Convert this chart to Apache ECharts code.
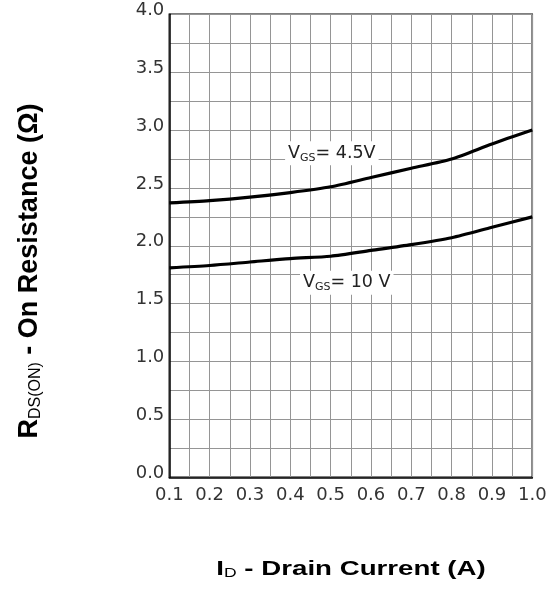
<!DOCTYPE html>
<html>
<head>
<meta charset="utf-8">
<script src="https://cdn.jsdelivr.net/npm/echarts@6/dist/echarts.min.js"></script>
<style>
html,body{margin:0;padding:0;background:#fff;}
#chart{width:550px;height:589px;}
</style>
</head>
<body>
<div id="chart"></div>
<script>
var drainCurrent = [0.1, 0.2, 0.3, 0.4, 0.5, 0.6, 0.7, 0.8, 0.9, 1.0];
var rdsVgs45 = [2.37, 2.39, 2.42, 2.46, 2.51, 2.59, 2.67, 2.75, 2.88, 3.00];
var rdsVgs10 = [1.81, 1.83, 1.86, 1.89, 1.91, 1.96, 2.01, 2.07, 2.16, 2.25];
var label45 = {x: 0.503, y: 2.80};
var label10 = {x: 0.54, y: 1.68};

var FONT = '"Liberation Sans", Arial, sans-serif';
var TICKFONT = '"DejaVu Sans", sans-serif';
function pairs(xs, ys){ return xs.map(function(x,i){ return [x, ys[i]]; }); }

var chart = echarts.init(document.getElementById('chart'), null, {renderer:'canvas'});
var gridStyle = {color:'#959595', width:1};
var labelRich = {
  v: {fontFamily: TICKFONT, fontSize: 17.5, color:'#222'},
  s: {fontFamily: TICKFONT, fontSize: 11, color:'#222', verticalAlign:'bottom', padding:[9,0,0,0]}
};
function vgsLabel(pt, txt){
  return {
    coord:[pt.x, pt.y], symbol:'rect', symbolSize:0,
    label:{show:true, position:'inside', formatter: '{v|V}{s|GS}{v|' + txt + '}', rich: labelRich,
      backgroundColor:'#fff', padding:[2,3,2,3]}
  };
}
chart.setOption({
  animation:false,
  grid:{left:169.3, right:17.7, top:14.3, bottom:111.7, show:true, borderColor:'#000', borderWidth:1.5, backgroundColor:'transparent'},
  xAxis:{
    type:'value', min:0.1, max:1.0, interval:0.1,
    axisLine:{show:true, lineStyle:{color:'#000', width:1.5}},
    axisTick:{show:false},
    minorTick:{show:false, splitNumber:2},
    splitLine:{show:true, lineStyle:gridStyle},
    minorSplitLine:{show:true, lineStyle:gridStyle},
    axisLabel:{fontFamily:TICKFONT, fontSize:18, color:'#333', margin:9,
      formatter:function(v){ return v.toFixed(1); }}
  },
  yAxis:{
    type:'value', min:0, max:4.0, interval:0.5,
    axisLine:{show:true, lineStyle:{color:'#000', width:1.5}},
    axisTick:{show:false},
    minorTick:{show:false, splitNumber:2},
    splitLine:{show:true, lineStyle:gridStyle},
    minorSplitLine:{show:true, lineStyle:gridStyle},
    axisLabel:{fontFamily:TICKFONT, fontSize:18, color:'#333', margin:5, verticalAlign:'bottom', lineHeight:8,
      formatter:function(v){ return v.toFixed(1); }}
  },
  graphic:[
    {type:'text', x:30, y:271, rotation:Math.PI/2,
     style:{text:'{b|R}{bs|DS(ON)}{b| - On Resistance (Ω)}', align:'center', verticalAlign:'middle',
       rich:{b:{fontFamily:FONT, fontSize:27, fontWeight:'bold', fill:'#000'},
             bs:{fontFamily:FONT, fontSize:16, fontWeight:'normal', fill:'#000', verticalAlign:'bottom', padding:[10,0,0,0]}}}},
    {type:'text', x:351, y:569, scaleX:1.35, scaleY:1,
     style:{text:'{b|I}{bs|D}{b| - Drain Current (A)}', align:'center', verticalAlign:'middle',
       rich:{b:{fontFamily:FONT, fontSize:20.5, fontWeight:'bold', fill:'#000'},
             bs:{fontFamily:FONT, fontSize:13, fontWeight:'normal', fill:'#000', verticalAlign:'bottom', padding:[7,0,0,0]}}}}
  ],
  series:[
    {type:'line', data:pairs(drainCurrent, rdsVgs45), smooth:0.25, showSymbol:false, symbol:'none',
     lineStyle:{color:'#000', width:3.2}, z:5,
     markPoint:{silent:true, data:[vgsLabel(label45, '= 4.5V')]}},
    {type:'line', data:pairs(drainCurrent, rdsVgs10), smooth:0.25, showSymbol:false, symbol:'none',
     lineStyle:{color:'#000', width:3.2}, z:5,
     markPoint:{silent:true, data:[vgsLabel(label10, '= 10 V')]}}
  ]
});
</script>
</body>
</html>
